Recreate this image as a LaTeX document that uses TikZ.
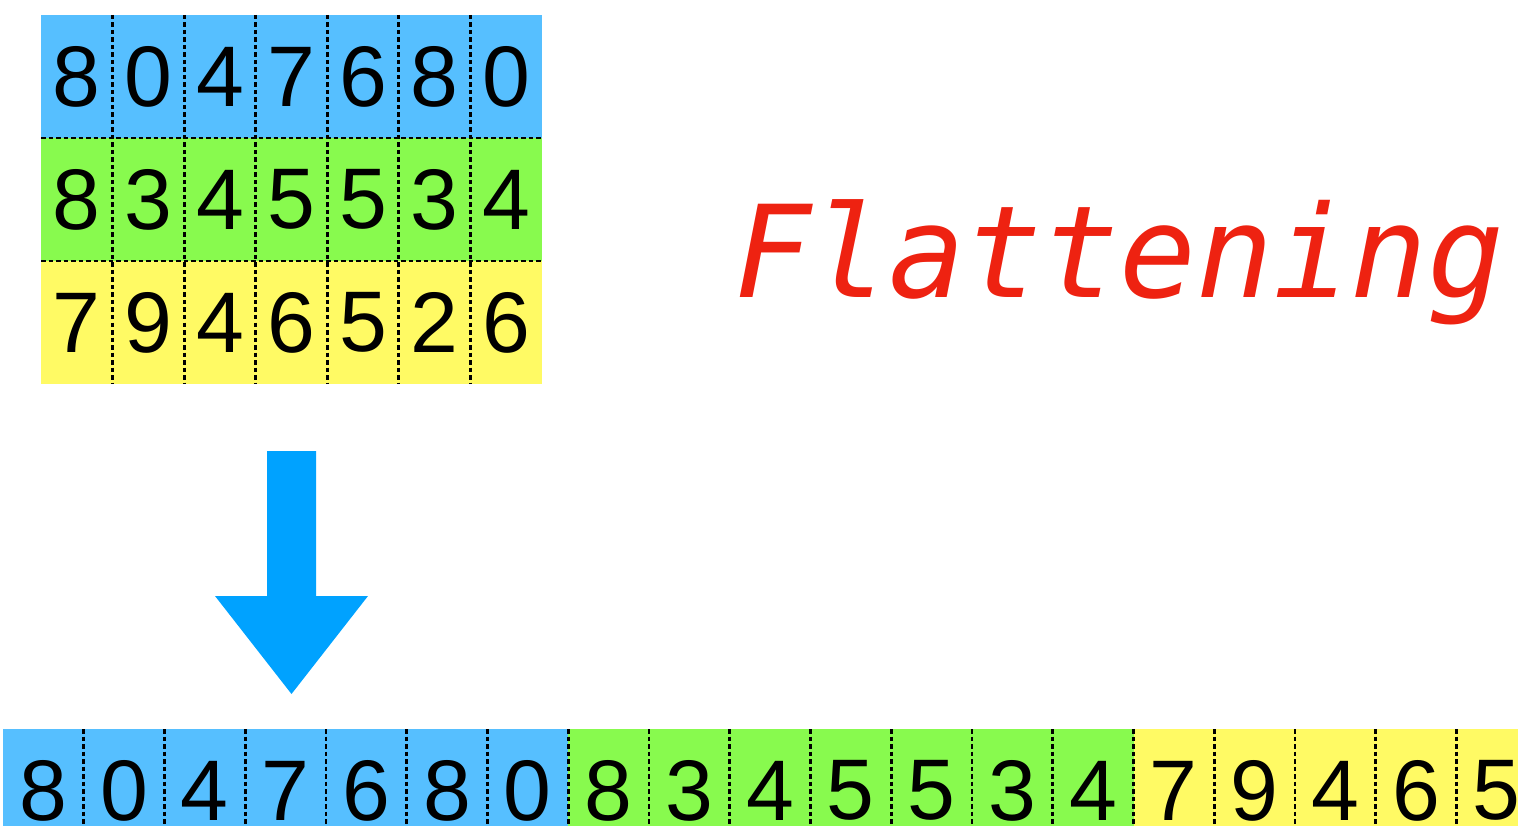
\documentclass[tikz,border=0pt]{standalone}
\usepackage{fontspec}
\setmainfont{Liberation Sans}
\newfontfamily\flatfont{DejaVu Sans Mono}
\definecolor{cblue}{RGB}{86,191,255}
\definecolor{cgreen}{RGB}{136,250,78}
\definecolor{cyellow}{RGB}{255,250,100}
\definecolor{arrowblue}{RGB}{0,162,255}
\definecolor{flred}{RGB}{238,34,17}
\begin{document}
\begin{tikzpicture}[x=1pt,y=-1pt,
  cell/.style={inner sep=0pt, outer sep=0pt, font=\fontsize{86}{86}\selectfont},
  sep/.style={line width=2.8pt, dash pattern=on 4.5pt off 3pt, black}]
\useasboundingbox (0,0) rectangle (1518,826);
\clip (0,0) rectangle (1518,826);
% top grid
\def\tw{71.571}
\def\th{123}
\foreach \row/\col [count=\r from 0] in {{8,0,4,7,6,8,0}/cblue,{8,3,4,5,5,3,4}/cgreen,{7,9,4,6,5,2,6}/cyellow}{
  \fill[\col] (41,{15+\r*\th}) rectangle (542,{15+(\r+1)*\th});
  \foreach \d [count=\c from 0] in \row {
    \node[cell, minimum width=\tw pt, minimum height=\th pt] (t-\r-\c) at ({41+(\c+0.5)*\tw},{15+(\r+0.5)*\th}) {\d};
  }
}
\foreach \k in {1,...,6}{
  \draw[sep] (t-0-\k.north west) -- (t-2-\k.south west);
}
\foreach \r in {1,2}{
  \draw[sep] (t-\r-0.north west) -- (t-\r-6.north east);
}
% bottom strip
\def\bw{80.75}
\fill[cblue] (3,729) rectangle ({3+7*\bw},852);
\fill[cgreen] ({3+7*\bw},729) rectangle ({3+14*\bw},852);
\fill[cyellow] ({3+14*\bw},729) rectangle ({3+19*\bw},852);
\foreach \d [count=\c from 0] in {8,0,4,7,6,8,0,8,3,4,5,5,3,4,7,9,4,6,5}{
  \node[cell, minimum width=\bw pt, minimum height=\th pt] (b-\c) at ({3+(\c+0.5)*\bw},{729+0.5*\th}) {\d};
}
\foreach \k in {1,...,18}{
  \draw[sep] (b-\k.north west) -- (b-\k.south west);
}
% arrow
\fill[arrowblue] (267,451) -- (316,451) -- (316,596) -- (368,596) -- (291.5,694) -- (215,596) -- (267,596) -- cycle;
% title
\node[font=\flatfont\itshape\fontsize{128}{128}\selectfont, text=flred, anchor=base west, inner sep=0pt] (title) at (734,298) {Flattening};
\end{tikzpicture}
\end{document}
